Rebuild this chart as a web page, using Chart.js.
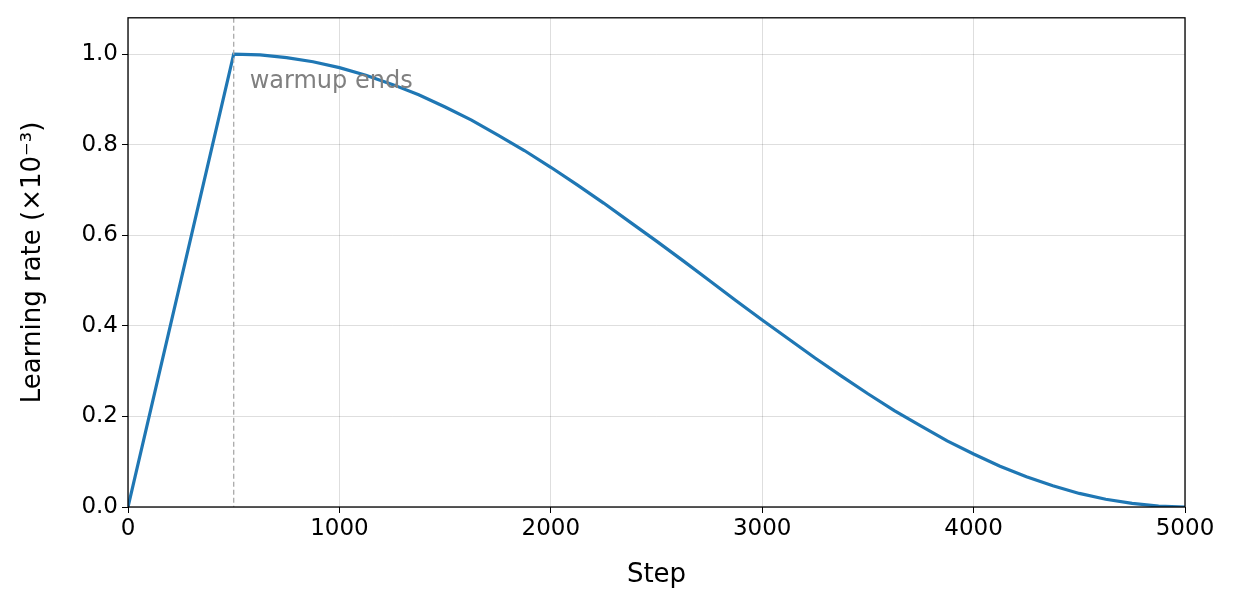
<!DOCTYPE html>
<html><head><meta charset="utf-8">
<script src="https://cdn.jsdelivr.net/npm/chart.js@4"></script>
<style>html,body{margin:0;padding:0;background:#fff}#w{width:1237px;height:609px}</style>
</head><body><div id="w"><canvas id="c"></canvas></div>
<script>
const steps=[0,250,500,625,750,875,1000,1125,1250,1375,1500,1625,1750,1875,2000,2125,2250,2375,2500,2625,2750,2875,3000,3125,3250,3375,3500,3625,3750,3875,4000,4125,4250,4375,4500,4625,4750,4875,5000];
const lr=[0,0.5,1.0,0.998,0.992,0.983,0.970,0.953,0.933,0.910,0.883,0.854,0.821,0.787,0.75,0.711,0.671,0.629,0.587,0.544,0.5,0.456,0.413,0.371,0.329,0.289,0.25,0.213,0.179,0.146,0.117,0.090,0.067,0.047,0.030,0.017,0.008,0.002,0];
const xTicks=[0,1000,2000,3000,4000,5000];
const yTicks=[0,0.2,0.4,0.6,0.8,1.0];
const warmupStep=500, annText="warmup ends";
const font="'DejaVu Sans', sans-serif";
const deco={id:'deco',afterDatasetsDraw(ch){const c=ch.ctx,a=ch.chartArea,x=ch.scales.x.getPixelForValue(warmupStep);
c.save();c.strokeStyle='#aaaaaa';c.lineWidth=1.3;c.setLineDash([5,3]);c.beginPath();c.moveTo(x,a.top);c.lineTo(x,a.bottom);c.stroke();
c.setLineDash([]);c.fillStyle='#808080';c.font='24px '+font;c.textBaseline='middle';c.fillText(annText,x+16,82);
c.strokeStyle='#000';c.lineWidth=1.3;c.strokeRect(a.left,a.top,a.right-a.left,a.bottom-a.top);c.restore();}};
new Chart(document.getElementById('c'),{type:'line',
data:{datasets:[{data:steps.map((s,i)=>({x:s,y:lr[i]})),borderColor:'#1f77b4',borderWidth:3.2,pointRadius:0,tension:0}]},
options:{responsive:true,maintainAspectRatio:false,animation:false,
layout:{padding:{left:14,right:52,top:17,bottom:14}},
plugins:{legend:{display:false},tooltip:{enabled:false}},
scales:{
x:{type:'linear',min:0,max:5000,afterBuildTicks:s=>{s.ticks=xTicks.map(v=>({value:v}))},
afterFit:s=>{s.height=88},
grid:{color:'rgba(0,0,0,0.13)',drawTicks:true,tickLength:6,tickColor:'#000'},border:{display:false},
ticks:{color:'#000',font:{family:font,size:23},maxRotation:0,padding:2,callback:v=>String(v)},
title:{display:true,text:'Step',color:'#000',font:{family:font,size:26},padding:{top:4}}},
y:{min:0,max:1.08,afterBuildTicks:s=>{s.ticks=yTicks.map(v=>({value:v}))},
afterFit:s=>{s.width=114},
grid:{color:'rgba(0,0,0,0.13)',tickLength:6,tickColor:'#000'},border:{display:false},
ticks:{color:'#000',font:{family:font,size:23},padding:4,callback:v=>v.toFixed(1)},
title:{display:true,text:'Learning rate (×10⁻³)',color:'#000',font:{family:font,size:26},padding:{bottom:6}}}}},
plugins:[deco]});
</script></body></html>
